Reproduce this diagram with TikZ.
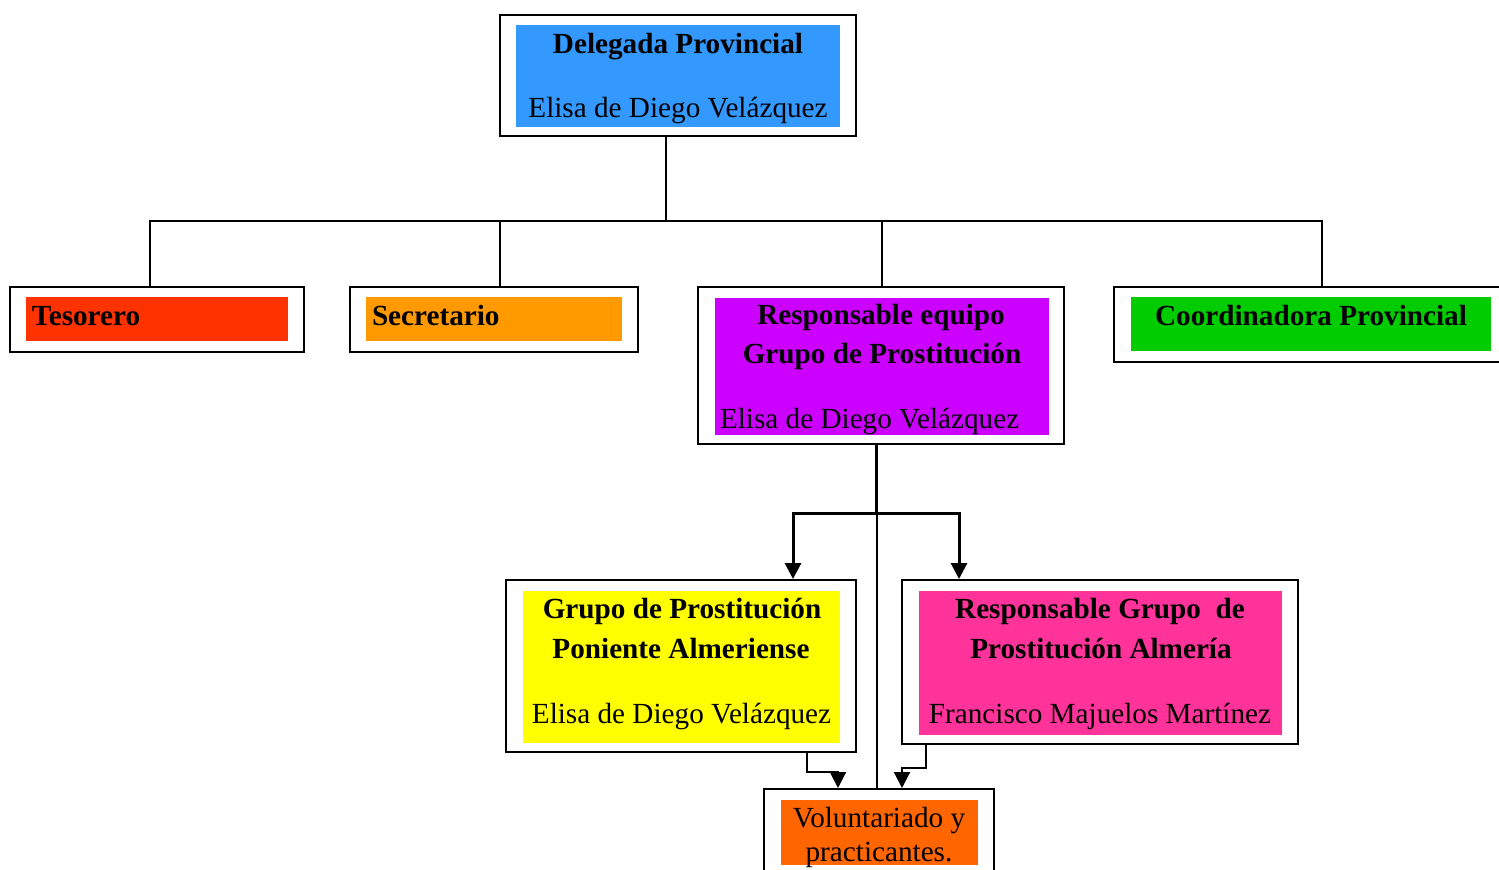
\documentclass[tikz,border=0pt]{standalone}
\usepackage{fontspec}
\setmainfont{Liberation Serif}
\usetikzlibrary{arrows.meta}

\definecolor{azulDel}{HTML}{3399FF}
\definecolor{rojoTes}{HTML}{FF3300}
\definecolor{naranjaSec}{HTML}{FF9900}
\definecolor{violetaResp}{HTML}{CC00FF}
\definecolor{verdeCoord}{HTML}{00CC00}
\definecolor{amarilloPon}{HTML}{FFFF00}
\definecolor{rosaAlm}{HTML}{FF3399}
\definecolor{naranjaVol}{HTML}{FF6600}

\tikzset{
  marco/.style={draw, line width=1pt, inner sep=0pt},
  fondo/.style={inner sep=0pt},
  cargo/.style={inner sep=0pt, anchor=base, font=\fontsize{14.6}{17}\selectfont\bfseries},
  nombre/.style={inner sep=0pt, anchor=base, font=\fontsize{14.6}{17}\selectfont},
  flecha/.style={-{Triangle[width=8pt,length=8pt]}}
}

\begin{document}
\begin{tikzpicture}[x=0.5pt, y=-0.5pt, line width=1pt]
    \useasboundingbox (0,0) rectangle (1499,869);

    % boxes
    \node[marco, minimum width=178pt, minimum height=60.5pt] at (678,75.5) (Del) {};
    \node[fondo, fill=azulDel, minimum width=162pt, minimum height=51pt] at (678,76) (DelF) {};
    \node[cargo] at (678,53) (DelT) {Delegada Provincial};
    \node[nombre] at (678,117) (DelN) {Elisa de Diego Velázquez};

    \node[marco, minimum width=147pt, minimum height=32.5pt] at (157,319.5) (Tes) {};
    \node[fondo, fill=rojoTes, minimum width=131pt, minimum height=22pt] at (157,319) (TesF) {};
    \node[cargo, anchor=base west] at (31,325) (TesT) {Tesorero};

    \node[marco, minimum width=144pt, minimum height=32.5pt] at (494,319.5) (Sec) {};
    \node[fondo, fill=naranjaSec, minimum width=128pt, minimum height=22pt] at (494,319) (SecF) {};
    \node[cargo, anchor=base west] at (371,325) (SecT) {Secretario};

    \node[marco, minimum width=183pt, minimum height=78.5pt] at (881,365.5) (Resp) {};
    \node[fondo, fill=violetaResp, minimum width=167pt, minimum height=68.5pt] at (882,366.5) (RespF) {};
    \node[cargo] at (881,324) (RespT1) {Responsable equipo};
    \node[cargo] at (882,363) (RespT2) {Grupo de Prostitución};
    \node[nombre, anchor=base west] at (719,428) (RespN) {Elisa de Diego Velázquez};

    \node[marco, minimum width=195.5pt, minimum height=37.5pt] at (1309.5,324.5) (Coord) {};
    \node[fondo, fill=verdeCoord, minimum width=180pt, minimum height=27pt] at (1311,324) (CoordF) {};
    \node[cargo] at (1311,325) (CoordT) {Coordinadora Provincial};

    \node[marco, minimum width=175pt, minimum height=86pt] at (681,666) (Pon) {};
    \node[fondo, fill=amarilloPon, minimum width=158.5pt, minimum height=76pt] at (681.5,667) (PonF) {};
    \node[cargo] at (682,618) (PonT1) {Grupo de Prostitución};
    \node[cargo] at (681,658) (PonT2) {Poniente Almeriense};
    \node[nombre] at (681.5,723) (PonN) {Elisa de Diego Velázquez};

    \node[marco, minimum width=198pt, minimum height=82pt] at (1100,662) (Alm) {};
    \node[fondo, fill=rosaAlm, minimum width=181.5pt, minimum height=72pt] at (1100.5,663) (AlmF) {};
    \node[cargo] at (1100,618) (AlmT1) {Responsable Grupo~ de};
    \node[cargo] at (1101,658) (AlmT2) {Prostitución Almería};
    \node[nombre] at (1100,723) (AlmN) {Francisco Majuelos Martínez};

    \node[marco, minimum width=115pt, minimum height=48pt] at (879,837) (Vol) {};
    \node[fondo, fill=naranjaVol, minimum width=98.5pt, minimum height=32.5pt] at (879.5,832.5) (VolF) {};
    \node[nombre] at (879,827) (VolT1) {Voluntariado y};
    \node[nombre] at (879,861) (VolT2) {practicantes.};

    % upper tree
    \coordinate (bus) at (666,221);
    \draw (Del.south -| bus) -- (bus);
    \draw ([xshift=-3.5pt]Tes.north) -- ([xshift=-3.5pt]Tes.north |- bus)
        -- ([xshift=6.25pt]Coord.north |- bus) -- ([xshift=6.25pt]Coord.north);
    \draw ([xshift=3pt]Sec.north) -- ([xshift=3pt]Sec.north |- bus);
    \draw ([xshift=0.5pt]Resp.north) -- ([xshift=0.5pt]Resp.north |- bus);

    % lower tree
    \coordinate (split) at (876.5,513);
    \draw[line width=1.5pt] ([xshift=-2.25pt]Resp.south) -- (split);
    \draw[flecha, line width=1.5pt] (split) -| ([xshift=56pt]Pon.north);
    \draw[flecha, line width=1.5pt] (split) -| ([xshift=-70.5pt]Alm.north);
    \draw (split) -- (split |- Vol.north);
    \draw[flecha] ([xshift=63pt]Pon.south) -- ++(0,19) -| ([xshift=-20.5pt]Vol.north);
    \draw[flecha] ([xshift=-87pt]Alm.south) -- ++(0,23) -| ([xshift=11.5pt]Vol.north);
\end{tikzpicture}
\end{document}
